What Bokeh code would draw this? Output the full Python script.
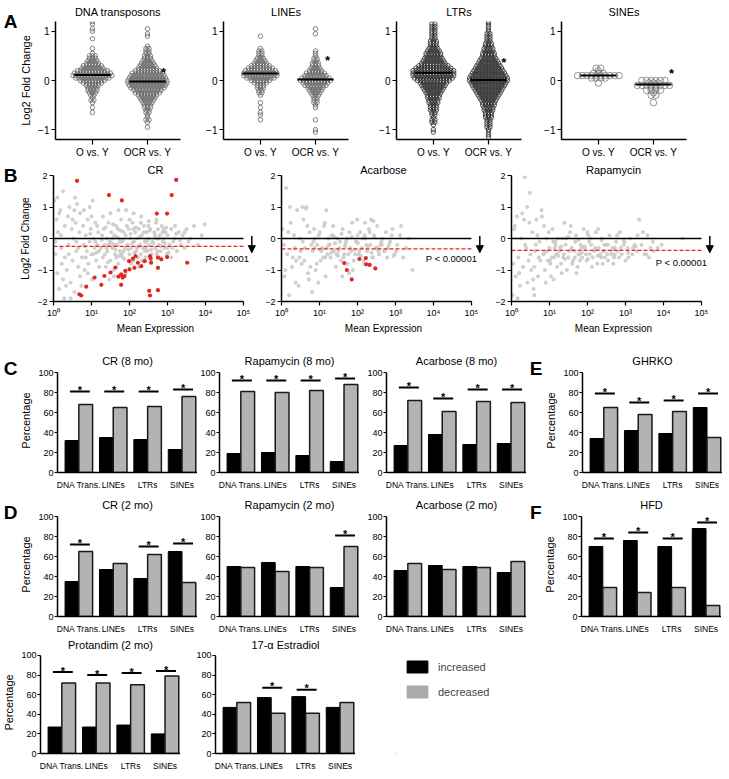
import numpy as np
from bokeh.plotting import figure
from bokeh.layouts import row, column
from bokeh.models import (Range1d, FixedTicker, LinearAxis, Arrow, NormalHead, Legend, LegendItem)
from bokeh.core.properties import value
from bokeh.embed import file_html
from bokeh.resources import INLINE

FONT = "Liberation Sans"

# ---------------- DATA ----------------
# Panel A: beeswarm counts per Log2FC level (level -> number of elements)
swarm_groups = ["O vs. Y", "OCR vs. Y"]
dna_o = {-0.65:1,-0.55:1,-0.45:1,-0.40:2,-0.35:1,-0.30:2,-0.25:3,-0.20:4,-0.15:4,-0.10:5,-0.05:7,0.00:9,
         0.05:12,0.10:14,0.15:13,0.20:11,0.25:8,0.30:7,0.35:5,0.40:4,0.45:3,0.50:3,0.55:1,0.65:1,0.85:1,
         1.00:1,1.05:1,1.15:1,1.20:1}
dna_ocr = {-0.95:1,-0.85:1,-0.80:2,-0.75:1,-0.70:1,-0.65:2,-0.60:2,-0.55:3,-0.50:3,-0.45:4,-0.40:5,-0.35:6,
           -0.30:7,-0.25:9,-0.20:10,-0.15:12,-0.10:13,-0.05:14,0.00:14,0.05:13,0.10:12,0.15:11,0.20:9,
           0.25:7,0.30:6,0.35:5,0.40:4,0.45:3,0.50:3,0.55:2,0.60:2,0.65:2,0.70:1,0.90:1,0.95:1,1.05:1}
line_o = {-0.80:1,-0.70:1,-0.65:1,-0.55:1,-0.45:1,-0.30:1,-0.25:2,-0.20:2,-0.15:3,-0.10:3,-0.05:5,0.00:7,
          0.05:10,0.10:12,0.15:12,0.20:11,0.25:9,0.30:7,0.35:5,0.40:4,0.45:3,0.50:2,0.55:2,0.60:2,0.65:1,0.90:1}
line_ocr = {-1.05:1,-1.00:1,-0.80:1,-0.55:1,-0.50:1,-0.45:2,-0.40:2,-0.35:2,-0.30:3,-0.25:4,-0.20:5,-0.15:6,
            -0.10:8,-0.05:9,0.00:11,0.05:10,0.10:8,0.15:7,0.20:5,0.25:4,0.30:3,0.35:3,0.40:2,0.45:2,0.50:1,
            0.55:1,0.60:1,0.95:1,1.05:1}
ltr_o = {-1.05:1,-1.00:1,-0.90:1,-0.85:2,-0.80:2,-0.75:1,-0.70:2,-0.65:2,-0.60:3,-0.55:3,-0.50:3,-0.45:4,
         -0.40:4,-0.35:5,-0.30:5,-0.25:6,-0.20:7,-0.15:8,-0.10:9,-0.05:10,0.00:12,0.05:14,0.10:15,0.15:15,
         0.20:15,0.25:13,0.30:11,0.35:9,0.40:8,0.45:7,0.50:6,0.55:6,0.60:5,0.65:4,0.70:3,0.75:3,0.80:3,
         0.85:2,0.90:2,0.95:2,1.00:2,1.05:2,1.10:2,1.15:2}
ltr_ocr = {-1.15:1,-1.10:1,-1.05:1,-1.00:1,-0.95:2,-0.90:2,-0.85:2,-0.80:2,-0.75:3,-0.70:3,-0.65:3,-0.60:4,
           -0.55:4,-0.50:5,-0.45:5,-0.40:6,-0.35:7,-0.30:8,-0.25:9,-0.20:10,-0.15:11,-0.10:12,-0.05:13,
           0.00:14,0.05:14,0.10:13,0.15:12,0.20:11,0.25:10,0.30:9,0.35:8,0.40:7,0.45:6,0.50:5,0.55:5,
           0.60:4,0.65:4,0.70:3,0.75:3,0.80:2,0.85:2,0.90:2,0.95:2,1.00:1,1.05:1,1.10:1,1.15:1,1.20:1}
sine_o = {0.25:2,0.20:1,0.15:3,0.10:10,0.05:4,-0.05:1}
sine_ocr = {0.00:6,-0.05:3,-0.10:8,-0.15:2,-0.20:4,-0.25:1,-0.30:2,-0.45:1}
swarm_titles = ["DNA transposons", "LINEs", "LTRs", "SINEs"]
swarm_medians = [[0.11, -0.02], [0.14, 0.02], [0.16, 0.01], [0.10, -0.08]]
swarm_stars = [(2.29, 0.25), (2.22, 0.49), (2.28, 0.45), (2.33, 0.22)]

# Panel B: log10(mean expression) and Log2FC
ma_tick_labels = ["10\u2070", "10\u00b9", "10\u00b2", "10\u00b3", "10\u2074", "10\u2075"]
cr_gx = [0.02,0.05,0.08,0.10,0.12,0.15,0.18,0.20,0.22,0.25,0.28,0.30,0.05,0.15,0.25,0.10,0.30,0.20,
         0.35,0.38,0.40,0.42,0.45,0.48,0.50,0.52,0.55,0.58,0.60,0.62,0.65,0.68,0.70,0.40,0.50,0.60,0.70,0.45,0.55,0.65,
         0.75,0.78,0.80,0.82,0.85,0.88,0.90,0.92,0.95,0.98,1.00,1.02,1.05,1.08,1.10,1.12,1.15,1.18,1.20,0.80,0.90,1.00,1.10,1.20,0.85,0.95,1.05,1.15,
         1.25,1.28,1.30,1.32,1.35,1.38,1.40,1.42,1.45,1.48,1.50,1.52,1.55,1.58,1.60,1.62,1.65,1.68,1.70,1.72,1.75,1.78,1.80,1.82,1.85,1.88,1.90,1.30,1.40,1.50,1.60,1.70,1.80,1.90,1.35,1.45,1.55,1.65,1.75,1.85,
         1.95,1.98,2.00,2.02,2.05,2.08,2.10,2.12,2.15,2.18,2.20,2.22,2.25,2.28,2.30,2.32,2.35,2.38,2.40,2.42,2.45,2.48,2.50,2.52,2.55,2.58,2.60,2.00,2.10,2.20,2.30,2.40,2.50,2.05,2.25,2.45,
         2.65,2.68,2.70,2.72,2.75,2.78,2.80,2.82,2.85,2.88,2.90,2.92,2.95,2.98,3.00,3.05,3.10,3.15,3.20,3.25,3.30,2.70,2.80,2.90,3.00,3.10,3.20,
         3.35,3.40,3.45,3.50,3.55,3.60,3.70,3.80,3.90,3.45,3.98,
         0.83,0.97,1.13,1.27,1.37,1.43,1.53,1.57,1.63,1.67,1.73,1.77,1.83,1.87,1.93,1.97,2.03,2.07,2.13,2.17,
         2.23,2.27,2.33,2.37,2.43,2.47,2.53,2.57,2.63,2.67,2.73,2.77,2.83,2.87,2.93,2.97,3.03,3.13,3.23,3.33,
         1.47,1.59,1.71,1.91,2.11,2.31,2.51,2.71,0.33,0.57,0.73,1.03]
cr_gy = [1.2,-0.5,0.6,-1.1,0.2,-1.6,0.9,-0.3,-0.8,1.5,-1.9,0.4,-0.1,0.8,-1.3,1.3,-0.6,0.1,
         -1.0,0.7,-0.2,1.0,-1.4,0.3,-0.7,0.0,-1.7,0.5,-0.4,1.1,-0.9,0.2,-1.2,-0.5,0.6,-0.1,0.8,-1.9,0.9,-0.3,
         -0.6,0.4,-0.2,-1.0,0.1,-0.4,0.6,-0.8,-0.1,0.3,-0.5,-1.3,0.0,-0.3,0.5,-0.7,-0.2,0.2,-0.9,0.9,-1.1,0.7,-0.1,-0.4,-0.6,1.0,-0.5,0.4,
         -0.3,0.1,-0.6,0.3,-0.2,-0.9,0.0,-0.4,0.5,-0.1,-0.7,0.2,-0.3,-1.0,0.1,-0.5,0.4,-0.2,-0.8,0.0,-0.4,0.6,-0.1,-0.6,0.2,-0.3,-1.1,0.7,-0.3,0.8,-0.2,0.3,-0.5,0.1,-0.5,-0.2,0.0,-0.6,-0.1,-0.4,
         -0.2,0.3,-0.5,0.0,-0.3,0.5,-0.7,-0.1,0.2,-0.4,0.0,-0.6,0.3,-0.2,-0.5,0.1,-0.3,0.4,-0.1,-0.6,0.2,-0.4,0.0,-0.2,0.3,-0.5,-0.1,0.6,0.3,-0.3,0.5,-0.4,0.4,-0.8,-0.9,-0.1,
         0.2,-0.3,0.0,-0.5,0.3,-0.2,0.1,-0.4,0.4,-0.1,0.0,-0.3,0.2,-0.5,0.1,-0.2,0.3,-0.1,0.0,-0.4,0.2,0.5,-0.6,0.3,-0.3,-0.6,0.4,
         -0.2,0.1,-0.3,0.3,-0.1,0.0,0.4,-0.2,0.1,0.2,0.45,
         -0.25,0.15,-0.45,-0.05,0.35,-0.75,-0.15,0.45,-0.35,0.05,-0.55,0.25,-0.05,-0.65,0.4,-0.35,0.15,-0.15,-0.45,0.35,
         -0.25,0.05,-0.7,0.2,-0.3,-0.05,0.25,-0.35,-0.15,0.1,-0.4,0.0,-0.25,0.2,-0.15,0.35,-0.45,-0.3,0.15,-0.05,
         -1.3,-1.2,0.9,0.9,0.8,0.7,0.55,0.6,-1.5,1.3,-1.5,1.2]
cr_rx = [0.62,1.46,1.80,3.23,3.11,2.99,2.72,3.52,2.54,2.56,2.75,2.84,2.99,2.75,2.57,2.16,2.09,1.99,2.22,2.31,
         2.13,2.00,1.89,1.78,1.71,1.82,1.87,1.78,1.50,1.34,1.08,1.26,0.86,0.68,0.73,2.52,2.54,2.75,1.63,2.40]
cr_ry = [1.83,1.38,1.21,1.86,1.38,0.79,0.79,-0.77,-0.56,-0.64,-0.61,-0.66,-0.59,-0.93,-0.77,-0.56,-0.64,-0.72,-0.77,-0.88,
         -0.93,-0.98,-1.03,-1.14,-1.21,-1.24,-1.19,-1.47,-1.08,-1.19,-1.24,-1.47,-1.53,-1.77,-1.81,-1.66,-1.81,-1.64,-0.92,-0.72]
aca_gx = [0.03,0.08,0.12,0.15,0.2,0.24,0.28,0.33,0.37,0.41,0.06,0.18,0.3,0.1,0.22,0.35,
          0.45,0.49,0.53,0.58,0.62,0.66,0.7,0.74,0.47,0.56,0.64,0.72,0.51,0.6,0.68,0.78,0.76,
          0.82,0.86,0.9,0.94,0.98,1.03,1.07,1.12,1.16,1.21,0.84,0.93,1.01,1.1,1.19,0.88,0.97,1.05,1.14,
          1.25,1.29,1.34,1.38,1.43,1.47,1.52,1.56,1.61,1.65,1.7,1.74,1.79,1.83,1.88,1.27,1.36,1.45,1.54,1.63,1.72,1.81,1.9,1.32,1.5,1.68,1.86,
          1.94,1.98,2.03,2.07,2.12,2.16,2.21,2.25,2.3,2.34,2.39,2.43,2.48,2.52,2.57,1.96,2.05,2.14,2.23,2.32,2.41,2.5,2.0,2.18,2.36,2.55,
          2.61,2.66,2.7,2.75,2.8,2.86,2.92,2.98,3.05,3.12,3.2,3.28,3.35,3.45,2.64,2.78,2.9,3.02,3.15,
          0.87,1.01,1.15,1.23,1.31,1.41,1.49,1.58,1.67,1.76,1.85,1.92,2.01,2.09,2.19,2.27,2.37,2.45,2.54,2.63,
          2.72,2.83,2.95,1.39,1.6,1.78,1.99,2.2,2.42,0.39,0.55,0.81,1.18]
aca_gy = [0.3,-1.2,1.6,-0.5,-1.8,0.5,-0.9,0.1,-1.4,0.9,-0.2,0.2,-0.6,-1.0,1.0,-0.3,
          -1.5,0.0,-0.8,0.6,-0.3,1.0,-1.1,0.2,-0.6,-0.1,0.95,-1.3,-0.4,-0.7,0.4,-0.2,-0.9,
          -0.4,0.3,-1.0,-0.2,0.1,-0.7,-0.3,0.4,-1.2,-0.5,-0.1,-0.8,0.2,-0.6,-0.3,0.0,-1.4,-0.4,0.5,
          -0.2,-0.6,0.1,-0.4,-0.9,0.0,-0.3,-0.7,0.3,-0.5,-0.1,-0.8,0.2,-0.4,-1.0,-0.2,0.4,-0.5,-0.1,-0.6,0.0,-0.3,-0.7,0.1,-0.4,-0.2,0.5,-0.5,
          -0.1,-0.5,0.2,-0.3,-0.7,0.0,-0.4,0.3,-0.2,-0.6,0.1,-0.3,0.4,-0.5,-0.1,-0.4,0.0,-0.2,0.2,-0.6,-0.3,0.1,-0.8,0.6,-0.4,-0.2,
          0.0,-0.4,0.2,-0.3,-0.1,0.3,-0.5,-0.2,0.1,-0.6,-0.3,0.0,-1.0,-0.2,-0.6,0.1,-0.4,0.4,-0.3,
          -0.35,-0.6,0.0,-0.45,-0.15,-0.55,0.15,-0.25,-0.5,0.05,-0.35,-0.15,-0.55,0.1,-0.25,-0.45,0.05,-0.3,-0.1,-0.4,
          -0.2,-0.55,0.05,-1.2,-1.1,0.6,0.5,0.55,-0.7,1.0,-1.7,0.9,-1.1]
aca_rx = [1.65,1.72,1.85,2.05,2.22,2.23,2.32,2.47]
aca_ry = [-0.78,-1.0,-1.3,-0.65,-0.62,-0.82,-0.84,-0.95]
rap_gx = [0.03,0.07,0.11,0.14,0.18,0.22,0.26,0.3,0.35,0.39,0.05,0.16,0.28,0.09,0.2,0.33,0.42,0.36,
          0.45,0.48,0.52,0.55,0.58,0.62,0.66,0.7,0.74,0.5,0.6,0.68,0.76,0.47,0.57,0.64,0.72,0.8,
          0.84,0.88,0.92,0.96,1.0,1.04,1.08,1.12,1.16,1.2,0.86,0.94,1.02,1.1,1.18,0.9,0.98,1.06,1.14,1.22,
          1.26,1.3,1.34,1.38,1.42,1.46,1.5,1.54,1.58,1.62,1.66,1.7,1.74,1.78,1.82,1.86,1.9,1.28,1.36,1.44,1.52,1.6,1.68,1.76,1.84,1.32,1.56,1.8,
          1.94,1.98,2.02,2.06,2.1,2.14,2.18,2.22,2.26,2.3,2.34,2.38,2.42,2.46,2.5,2.54,2.58,2.62,1.96,2.04,2.12,2.2,2.28,2.36,2.44,2.52,2.0,2.4,
          2.66,2.7,2.75,2.8,2.85,2.9,2.95,3.0,3.06,3.12,3.18,3.24,3.3,3.36,2.68,2.78,2.88,2.98,3.08,3.2,3.32,2.72,
          3.42,3.5,3.58,3.66,3.75,3.85,3.95,3.46,3.62,4.5,
          0.87,1.01,1.15,1.23,1.31,1.41,1.49,1.58,1.67,1.76,1.85,1.92,2.01,2.09,2.19,2.27,2.37,2.45,2.54,2.63,
          2.72,2.83,2.95,3.07,3.27,3.55,3.72,0.41,0.6,0.79,1.11,1.39,1.71]
rap_gy = [-1.8,0.3,-1.2,0.7,-0.6,-1.5,0.0,-0.9,1.95,-0.3,-0.8,-1.9,0.8,0.4,-1.1,0.6,-1.4,-0.2,
          -0.7,1.45,-1.0,0.2,-1.6,-0.4,0.6,-1.2,-0.1,-0.5,-0.9,0.1,-0.7,0.5,-1.3,-0.2,-0.6,0.7,
          -0.5,-1.0,0.0,-0.7,-0.3,-1.2,0.3,-0.6,-0.2,-0.9,0.4,-0.4,-0.8,-0.1,-0.5,-1.4,0.2,-0.6,-0.3,0.0,
          -0.4,-0.8,0.0,-0.5,-0.2,-1.0,-0.6,0.2,-0.3,-0.7,-0.4,0.1,-0.9,-0.5,-0.2,-0.6,0.3,-0.3,-0.6,0.0,-0.4,-0.8,-0.1,-0.5,-0.3,-1.1,0.4,-0.7,
          -0.3,-0.7,0.1,-0.5,-0.2,-0.6,-0.4,0.2,-0.8,-0.3,-0.5,0.0,-0.4,-0.6,-0.2,-0.7,0.1,-0.4,-0.5,-0.1,-0.9,-0.3,0.3,-0.6,-0.2,-0.5,0.2,-0.8,
          -0.3,-0.6,-0.1,-0.4,0.2,-0.5,-0.2,-0.7,-0.3,0.0,-0.5,-0.2,-0.4,0.6,-0.8,0.1,-0.3,-0.1,-0.6,-0.3,0.1,-0.5,
          -0.2,-0.5,0.1,-0.3,-0.4,-0.3,-0.2,0.2,-0.6,0.0,
          -0.45,-0.7,-0.1,-0.55,-0.25,-0.65,0.05,-0.35,-0.6,-0.05,-0.45,-0.25,-0.65,0.0,-0.35,-0.55,-0.05,-0.4,-0.2,-0.5,
          -0.3,-0.6,-0.05,-0.45,-0.25,-0.5,-0.1,1.0,-1.8,0.9,-1.3,0.5,-1.1]
ma_titles = ["CR", "Acarbose", "Rapamycin"]
ma_thresholds = [-0.25, -0.33, -0.38]
ma_ptexts = ["P< 0.0001", "P < 0.00001", "P < 0.00001"]
ma_ptext_y = [-0.62, -0.65, -0.76]

# Panels C-F: percentage of elements increased / decreased
categories = ["DNA Trans.", "LINEs", "LTRs", "SINEs"]
cr8_inc = [32, 35, 33, 23];   cr8_dec = [68, 65, 66, 76];   cr8_sig = [81, 81, 81, 83]
rap8_inc = [19, 20, 17, 11];  rap8_dec = [81, 80, 82, 88];  rap8_sig = [92, 92, 92, 94]
aca8_inc = [27, 38, 28, 29];  aca8_dec = [72, 61, 71, 70];  aca8_sig = [85, 74, 83, 83]
ghrko_inc = [34, 42, 39, 65]; ghrko_dec = [65, 58, 61, 35]; ghrko_sig = [79, 70, 72, 79]
cr2_inc = [35, 47, 38, 65];   cr2_dec = [65, 53, 62, 34];   cr2_sig = [72, None, 70, 73]
rap2_inc = [50, 54, 50, 29];  rap2_dec = [49, 45, 49, 70];  rap2_sig = [None, None, None, 81]
aca2_inc = [46, 51, 50, 44];  aca2_dec = [53, 47, 49, 55];  aca2_sig = [None, None, None, None]
hfd_inc = [70, 76, 70, 88];   hfd_dec = [29, 24, 29, 11];   hfd_sig = [78, 84, 78, 94]
prot_inc = [27, 27, 29, 20];  prot_dec = [72, 72, 70, 79];  prot_sig = [83, 80, 82, 84]
e2_inc = [47, 57, 58, 47];    e2_dec = [52, 41, 41, 52];    e2_sig = [None, 67, 65, None]
legend_labels = ["increased", "decreased"]

INC_COLOR = "black"
DEC_COLOR = "#b3b3b3"

# ---------------- HELPERS ----------------
def mkfig(fw, fh, bl, br, bt, bb, xr, yr, title=None, tstand=3, tsize="11px"):
    p = figure(frame_width=fw, frame_height=fh, min_border_left=bl, min_border_right=br,
               min_border_top=bt, min_border_bottom=bb, x_range=Range1d(*xr), y_range=Range1d(*yr),
               output_backend="svg", toolbar_location=None, tools="", title=title)
    p.outline_line_color = None
    p.xgrid.visible = False
    p.ygrid.visible = False
    p.background_fill_color = "white"
    p.border_fill_color = "white"
    if title is not None:
        p.title.align = "center"
        p.title.text_font = FONT
        p.title.text_font_size = tsize
        p.title.text_font_style = "normal"
        p.title.text_color = "black"
        p.title.standoff = tstand
    for ax in (p.xaxis[0], p.yaxis[0]):
        ax.axis_line_width = 1.5
        ax.axis_line_color = "black"
        ax.major_tick_line_width = 1.2
        ax.major_tick_line_color = "black"
        ax.major_tick_in = 0
        ax.major_tick_out = 4
        ax.minor_tick_line_color = None
        ax.major_label_text_font = FONT
        ax.major_label_text_font_size = "9px"
        ax.major_label_text_color = "black"
        ax.major_label_standoff = 2
        ax.axis_label_text_font = FONT
        ax.axis_label_text_font_style = "normal"
        ax.axis_label_text_font_size = "11px"
        ax.axis_label_text_color = "black"
        ax.axis_label_standoff = 3
    return p

def letter(p, txt):
    # panel letter drawn as the single tick label of an extra, line-less axis at the frame top
    p.extra_y_ranges = {"letter": Range1d(0, 1)}
    ax = LinearAxis(y_range_name="letter", ticker=FixedTicker(ticks=[1]), major_label_overrides={1: txt})
    ax.axis_line_color = None
    ax.major_tick_line_color = None
    ax.minor_tick_line_color = None
    ax.major_tick_out = 0
    ax.major_tick_in = 0
    ax.major_label_standoff = 0
    ax.major_label_text_font = FONT
    ax.major_label_text_font_size = "19px"
    ax.major_label_text_font_style = "bold"
    ax.major_label_text_color = "black"
    p.add_layout(ax, "left")

def borders(lefts, width, r):
    out, end = [], 0
    for L in lefts:
        out.append(L - end)
        end = L + width + r
    return out

def swarm(counts, center, dx):
    xs, ys = [], []
    for lv, n in counts.items():
        for k in range(n):
            xs.append(center + (k - (n - 1) / 2.0) * dx)
            ys.append(lv)
    return xs, ys

def star_text(p, xs, ys, size="11px"):
    p.text(x=xs, y=ys, text=["*"] * len(xs), text_font=value(FONT), text_font_size=size,
           text_font_style="bold", text_align="center", text_baseline="alphabetic", text_color="black")

# ---------------- PANEL A ----------------
A_W = 125
A_lefts = [48, 216, 389, 554]
A_bl = borders(A_lefts, A_W, 5)
A_data = [(dna_o, dna_ocr), (line_o, line_ocr), (ltr_o, ltr_ocr), (sine_o, sine_ocr)]
A_style = [("#666666", 4.5, 3.0), ("#666666", 4.5, 3.0), ("#2a2a2a", 4.5, 2.9), ("#777777", 6.5, 4.6)]
rowA = []
for i in range(4):
    p = mkfig(A_W, 118, A_bl[i], 5, 20, 20, (0.33, 2.6), (-1.2, 1.2), swarm_titles[i], tstand=7)
    lc, sz, dpx = A_style[i]
    for gi, cnts in enumerate(A_data[i]):
        xs, ys = swarm(cnts, gi + 1, dpx / 55.0)
        p.scatter(xs, ys, marker="circle", size=sz, fill_color=None, line_color=lc, line_width=0.8)
    meds = swarm_medians[i]
    p.segment(x0=[1 - 0.33, 2 - 0.33], x1=[1 + 0.33, 2 + 0.33], y0=meds, y1=meds,
              line_color="black", line_width=2)
    star_text(p, [swarm_stars[i][0]], [swarm_stars[i][1] - 0.08], "13px")
    p.xaxis.ticker = FixedTicker(ticks=[1, 2])
    p.xaxis.major_label_overrides = {1: swarm_groups[0], 2: swarm_groups[1]}
    p.xaxis.major_tick_out = 5
    p.xaxis.major_label_text_font_size = "10px"
    p.yaxis.ticker = FixedTicker(ticks=[-1, 0, 1])
    p.yaxis.major_label_text_font_size = "10px"
    if i == 0:
        p.yaxis.axis_label = "Log2 Fold Change"
        letter(p, "A")
    rowA.append(p)

# ---------------- PANEL B ----------------
B_W = 204
B_lefts = [48, 276, 506]
B_bl = borders(B_lefts, B_W, 3)
B_grey = [(cr_gx, cr_gy), (aca_gx, aca_gy), (rap_gx, rap_gy)]
B_red = [(cr_rx, cr_ry), (aca_rx, aca_ry), ([], [])]
rowB = []
for i in range(3):
    p = mkfig(B_W, 126, B_bl[i], 3, 15, 33, (0, 5.37), (-2, 2), ma_titles[i], tstand=0)
    gx, gy = B_grey[i]
    p.scatter(gx, gy, marker="circle", size=3.2, fill_color="#d3d3d3", line_color="#bdbdbd", line_width=0.6)
    rx, ry = B_red[i]
    if rx:
        p.scatter(rx, ry, marker="circle", size=4.2, fill_color="#e3261f", line_color=None)
    p.segment(x0=[0], x1=[5], y0=[0], y1=[0], line_color="black", line_width=1.3)
    p.segment(x0=[0], x1=[5], y0=[ma_thresholds[i]], y1=[ma_thresholds[i]],
              line_color="#e3261f", line_width=1.3, line_dash="4 2")
    p.text(x=[5.15], y=[ma_ptext_y[i]], text=[ma_ptexts[i]], text_font=value(FONT), text_font_size="9.5px",
           text_align="right", text_baseline="middle", text_color="black")
    p.add_layout(Arrow(end=NormalHead(size=7, fill_color="black", line_color="black", line_width=1),
                       x_start=5.22, y_start=0.08, x_end=5.22, y_end=-0.45,
                       line_width=1.5, line_color="black"))
    p.xaxis.bounds = (0, 5)
    p.xaxis.ticker = FixedTicker(ticks=[0, 1, 2, 3, 4, 5])
    p.xaxis.major_label_overrides = {k: ma_tick_labels[k] for k in range(6)}
    p.xaxis.axis_label = "Mean Expression"
    p.xaxis.axis_label_text_font_size = "10px"
    p.xaxis.axis_label_standoff = 2
    p.yaxis.ticker = FixedTicker(ticks=[-2, -1, 0, 1, 2])
    if i == 0:
        p.yaxis.axis_label = "Log2 Fold Change"
        p.yaxis.axis_label_text_font_size = "10px"
        letter(p, "B")
    rowB.append(p)

# ---------------- BAR PANELS ----------------
BAR_W = 140
def bar_panel(title, inc, dec, sig, bl, br, bt, bb, fh, ylab, tstand):
    p = mkfig(BAR_W, fh, bl, br, bt, bb, (-0.62, 3.45), (0, 104), title, tstand=tstand)
    g = np.arange(len(categories))
    p.vbar(x=g - 0.2, top=inc, width=0.4, fill_color=INC_COLOR, line_color="black", line_width=1)
    p.vbar(x=g + 0.2, top=dec, width=0.4, fill_color=DEC_COLOR, line_color="#1a1a1a", line_width=1.5)
    sx = [gi + 0.03 for gi, s in enumerate(sig) if s is not None]
    sy = [s for s in sig if s is not None]
    if sx:
        p.segment(x0=[x - 0.29 for x in sx], x1=[x + 0.29 for x in sx], y0=sy, y1=sy,
                  line_color="black", line_width=2)
        star_text(p, sx, [y + 1.5 for y in sy])
    p.yaxis.bounds = (0, 100)
    p.yaxis.ticker = FixedTicker(ticks=[0, 20, 40, 60, 80, 100])
    p.yaxis.major_label_standoff = 1
    p.yaxis.major_tick_out = 3
    p.xaxis.ticker = FixedTicker(ticks=list(range(len(categories))))
    p.xaxis.major_label_overrides = {k: c for k, c in enumerate(categories)}
    p.xaxis.major_tick_line_color = None
    p.xaxis.major_label_standoff = 3
    p.xaxis.major_label_text_font_size = "8.5px"
    if ylab:
        p.yaxis.axis_label = "Percentage"
        p.yaxis.axis_label_standoff = 3
    return p

CD_lefts = [52, 212, 379, 572]
CD_bl = borders(CD_lefts, BAR_W, 0)
C_specs = [("CR (8 mo)", cr8_inc, cr8_dec, cr8_sig, True),
           ("Rapamycin (8 mo)", rap8_inc, rap8_dec, rap8_sig, False),
           ("Acarbose (8 mo)", aca8_inc, aca8_dec, aca8_sig, False),
           ("GHRKO", ghrko_inc, ghrko_dec, ghrko_sig, True)]
rowC = []
for i, (t, a, b, s, yl) in enumerate(C_specs):
    p = bar_panel(t, a, b, s, CD_bl[i], 0, 32, 20, 104, yl, 3)
    rowC.append(p)
letter(rowC[0], "C")
letter(rowC[3], "E")

D_specs = [("CR (2 mo)", cr2_inc, cr2_dec, cr2_sig, True),
           ("Rapamycin (2 mo)", rap2_inc, rap2_dec, rap2_sig, False),
           ("Acarbose (2 mo)", aca2_inc, aca2_dec, aca2_sig, False),
           ("HFD", hfd_inc, hfd_dec, hfd_sig, True)]
rowD = []
for i, (t, a, b, s, yl) in enumerate(D_specs):
    p = bar_panel(t, a, b, s, CD_bl[i], 0, 20, 20, 104, yl, 3)
    rowD.append(p)
letter(rowD[0], "D")
letter(rowD[3], "F")

E_lefts = [36, 211]
E_bl = borders(E_lefts, BAR_W, 0)
E_TOP, E_FH, E_BOT = 14, 102, 15
E_specs = [("Protandim (2 mo)", prot_inc, prot_dec, prot_sig, True),
           ("17-\u03b1 Estradiol", e2_inc, e2_dec, e2_sig, False)]
rowE = []
for i, (t, a, b, s, yl) in enumerate(E_specs):
    p = bar_panel(t, a, b, s, E_bl[i], 0, E_TOP, E_BOT, E_FH, yl, 1)
    rowE.append(p)

# legend-only figure, with the same top/bottom borders as its row neighbours
lw = 713 - (E_lefts[1] + BAR_W)
LEG_MARGIN = 8
pl = figure(frame_width=lw - (49 - LEG_MARGIN), frame_height=E_FH,
            min_border_left=49 - LEG_MARGIN, min_border_top=E_TOP, min_border_right=0,
            min_border_bottom=E_BOT, x_range=Range1d(0, 1), y_range=Range1d(0, 1),
            output_backend="svg", toolbar_location=None, tools="", x_axis_location=None, y_axis_location=None)
pl.outline_line_color = None
pl.xgrid.visible = False
pl.ygrid.visible = False
# off-range placeholder bars: they only provide the legend swatches
r1 = pl.vbar(x=[-5], top=[-5], bottom=[-6], width=0.1, fill_color=INC_COLOR, line_color=INC_COLOR)
r2 = pl.vbar(x=[-5], top=[-5], bottom=[-6], width=0.1, fill_color="#aaaaaa", line_color="#aaaaaa")
leg = Legend(items=[LegendItem(label=legend_labels[0], renderers=[r1]),
                    LegendItem(label=legend_labels[1], renderers=[r2])],
             location="top_left", orientation="vertical", glyph_width=26, glyph_height=15,
             label_height=15, spacing=10, padding=0, margin=LEG_MARGIN, label_standoff=8,
             label_text_font=FONT, label_text_font_size="11px", label_text_baseline="middle",
             border_line_color=None, background_fill_alpha=0)
pl.add_layout(leg)
rowE.append(pl)

layout = column(row(*rowA), row(*rowB), row(*rowC), row(*rowD), row(*rowE))
open("out.html", "w").write(file_html(layout, INLINE))
